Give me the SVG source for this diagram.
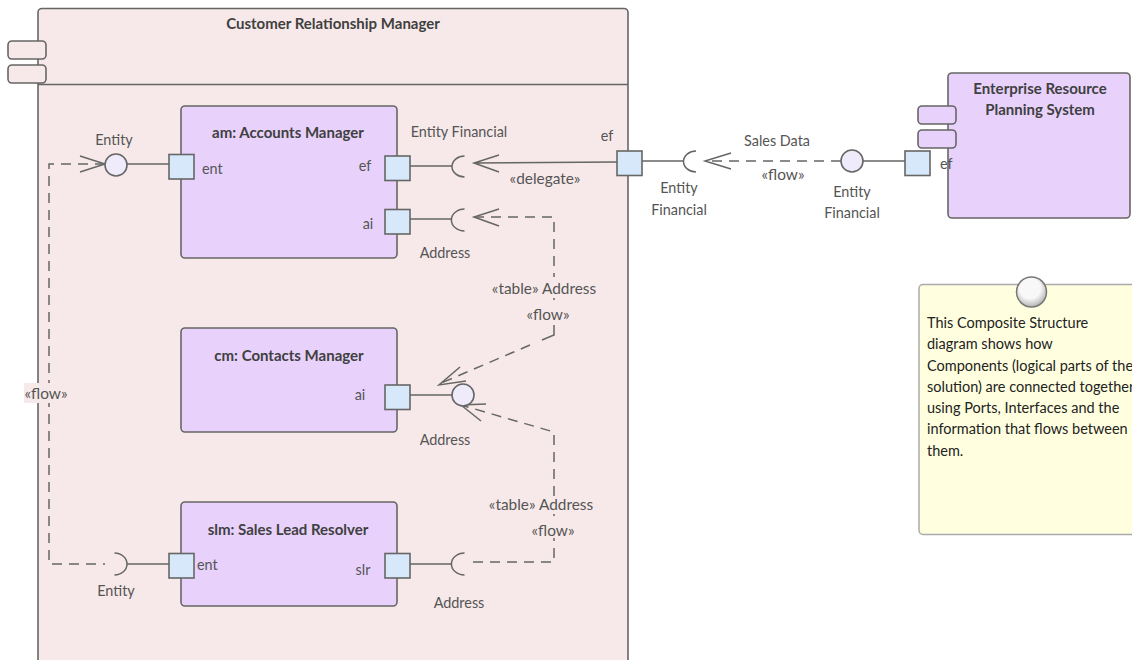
<svg xmlns="http://www.w3.org/2000/svg" width="1132" height="660" viewBox="0 0 1132 660">
<defs>
<radialGradient id="pin" cx="0.45" cy="0.38" r="0.62">
<stop offset="0.55" stop-color="#f8f8f8"/>
<stop offset="1" stop-color="#b4b4b4"/>
</radialGradient>
</defs>
<style>
text{font-family:Lato,"Liberation Sans",sans-serif;font-size:14.4px;fill:#555;text-anchor:middle}
.b{font-weight:700;fill:#404040;font-size:15px}
.g{font-size:15.4px}
.l{text-anchor:start}
.n{text-anchor:start;fill:#222;font-size:14.5px}
.s{stroke:#666;stroke-width:1.5;fill:none}
.d{stroke:#666;stroke-width:1.5;fill:none;stroke-dasharray:10 7}
.box{stroke:#666;stroke-width:1.6;fill:#e8d2fc}
.outer{stroke:#666;stroke-width:1.6;fill:#f7e9e9}
.port{stroke:#666;stroke-width:1.6;fill:#d8e8fb}
.ball{stroke:#666;stroke-width:1.6;fill:#f0ebfa}
</style>
<g id="crm">
<rect class="outer" x="38" y="8.500" width="590" height="680" rx="4"/>
<path class="s" d="M38 84.500H628"/>
<rect class="outer" x="8" y="41" width="38" height="18" rx="4"/>
<rect class="outer" x="8" y="65" width="38" height="18" rx="4"/>
<text class="b" x="333" y="29">Customer Relationship Manager</text>
</g>
<g id="am">
<rect class="box" x="181" y="106" width="216" height="152" rx="4"/>
<text class="b" x="288" y="138">am: Accounts Manager</text>
</g>
<g id="cm">
<rect class="box" x="181" y="328" width="216" height="104" rx="4"/>
<text class="b" x="289" y="361">cm: Contacts Manager</text>
</g>
<g id="slm">
<rect class="box" x="181" y="502" width="216" height="104" rx="4"/>
<text class="b" x="288" y="535">slm: Sales Lead Resolver</text>
</g>
<g id="erp">
<rect class="box" x="948" y="73" width="182" height="145" rx="4"/>
<rect class="box" x="918" y="106" width="38" height="18" rx="4"/>
<rect class="box" x="918" y="130" width="38" height="18" rx="4"/>
<text class="b" x="1040" y="94">Enterprise Resource</text>
<text class="b" x="1040" y="115">Planning System</text>
</g>
<g id="connectors">
<path class="s" d="M127 164H169M410 166H452M410 219H452M641 161H684M863 161H905M410 395H452M127 564H169M410 564H452"/>
<path class="s" d="M474 163L617 162M499 155L474 163L499 172"/>
<path class="d" d="M105 164H49V564H105"/>
<path class="s" d="M80 156L105 164L80 172"/>
<path class="d" d="M841 161H705"/>
<path class="s" d="M731 153L705 161L731 169"/>
<path class="d" d="M474 217H554V277"/>
<path class="s" d="M554 298V300"/>
<path class="s" d="M554 325V335L542 340"/>
<path class="d" d="M530 345L439 384"/>
<path class="s" d="M499 209L474 217L499 226M460 367L439 385L466 381"/>
<path class="d" d="M473 562H554V538"/>
<path class="d" d="M554 496V432L461 405"/>
<path class="s" d="M554 514V516"/>
<path class="s" d="M486 404L461 405L481 421"/>
<path class="s" d="M464.500 156A12.500 10.500 0 0 0 464.500 177M464.500 209A12.500 10.500 0 0 0 464.500 231M696 151A12.500 10.500 0 0 0 696 172M464.500 553A12.500 10.500 0 0 0 464.500 575M114.500 553A12.500 11 0 0 1 114.500 575"/>
<text x="114" y="145">Entity</text>
<text x="459" y="137">Entity Financial</text>
<text x="607" y="141">ef</text>
<text class="g" x="545" y="184">«delegate»</text>
<text x="445" y="258">Address</text>
<text class="g" x="544" y="294">«table» Address</text>
<text class="g" x="548" y="320">«flow»</text>
<rect x="24" y="383" width="46" height="20" fill="#f7e9e9"/>
<text class="g" x="46" y="399">«flow»</text>
<text x="445" y="445">Address</text>
<text class="g" x="541" y="510">«table» Address</text>
<text class="g" x="553" y="536">«flow»</text>
<text x="459" y="608">Address</text>
<text x="116" y="596">Entity</text>
<text x="679" y="193">Entity</text>
<text x="679" y="215">Financial</text>
<text x="777" y="146">Sales Data</text>
<text class="g" x="783" y="180">«flow»</text>
<text x="852" y="197">Entity</text>
<text x="852" y="218">Financial</text>
</g>
<g id="ports">
<circle class="ball" cx="116" cy="165" r="11"/>
<circle class="ball" cx="852" cy="161" r="11"/>
<circle class="ball" cx="463" cy="395" r="11"/>
<rect class="port" x="169" y="154.500" width="25" height="24.500"/>
<rect class="port" x="385" y="156" width="25" height="24.500"/>
<rect class="port" x="385" y="209.500" width="25" height="24.500"/>
<rect class="port" x="617" y="151" width="25" height="24.500"/>
<rect class="port" x="905" y="151" width="25" height="24.500"/>
<rect class="port" x="385" y="385" width="25" height="24.500"/>
<rect class="port" x="169" y="553.500" width="25" height="24.500"/>
<rect class="port" x="385" y="553.500" width="25" height="24.500"/>
<text class="l" x="202" y="174">ent</text>
<text x="365" y="171">ef</text>
<text x="368" y="229">ai</text>
<text x="360" y="400">ai</text>
<text class="l" x="197" y="570">ent</text>
<text x="363" y="575">slr</text>
<text class="l" x="940" y="169">ef</text>
</g>
<g id="note">
<rect x="919" y="284.500" width="240" height="250" rx="4" fill="#ffffe0" stroke="#aaa" stroke-width="1.500"/>
<circle cx="1031.500" cy="292" r="15" fill="url(#pin)" stroke="#777" stroke-width="1.500"/>
<text class="n" x="927" y="328">This Composite Structure</text>
<text class="n" x="927" y="349">diagram shows how</text>
<text class="n" x="927" y="371">Components (logical parts of the</text>
<text class="n" x="927" y="392">solution) are connected together</text>
<text class="n" x="927" y="413">using Ports, Interfaces and the</text>
<text class="n" x="927" y="434">information that flows between</text>
<text class="n" x="927" y="456">them.</text>
</g>
</svg>
